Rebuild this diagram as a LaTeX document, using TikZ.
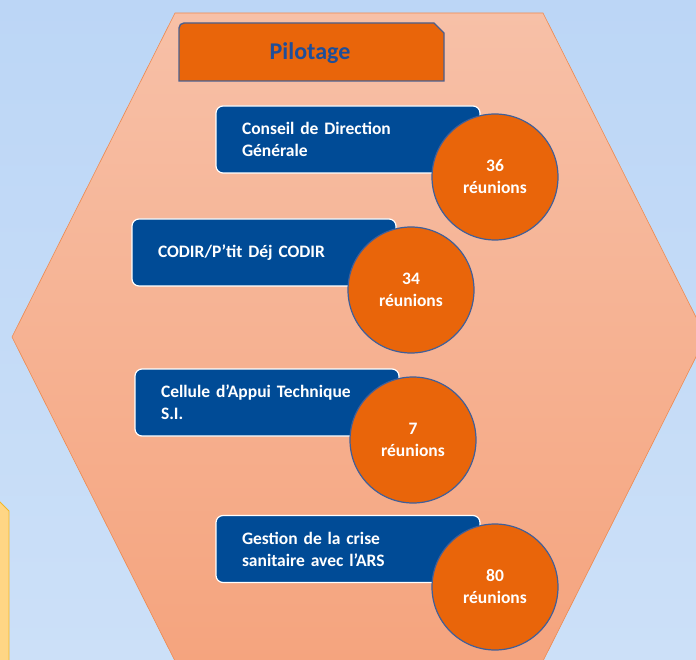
\documentclass[tikz,border=0pt]{standalone}
\usepackage{fontspec}
\setmainfont{Carlito}
\definecolor{bgtop}{HTML}{BCD6F6}
\definecolor{bgbot}{HTML}{CCE0F8}
\definecolor{hextop}{HTML}{F7C0A7}
\definecolor{hexbot}{HTML}{F5A47E}
\definecolor{hexline}{HTML}{EE8A50}
\definecolor{orangefill}{HTML}{E9650A}
\definecolor{boxblue}{HTML}{004B96}
\definecolor{circline}{HTML}{3F5F9A}
\definecolor{pilottext}{HTML}{1F4E99}
\definecolor{pilotline}{HTML}{4A5F8E}
\definecolor{yellowfill}{HTML}{FFD685}
\definecolor{yellowline}{HTML}{F2B829}
\tikzset{
  bluebox/.style={rectangle, fill=boxblue, draw=white, line width=1.2pt,
    rounded corners=7pt, minimum height=67pt, text width=212pt,
    inner xsep=26pt, inner ysep=0pt, align=left, text=white,
    font=\fontsize{17.5}{22}\selectfont\bfseries},
  countcircle/.style={circle, fill=orangefill, draw=circline, line width=1.2pt,
    minimum size=126pt, inner sep=0pt, align=center, text=white,
    font=\fontsize{17.5}{22}\selectfont\bfseries},
}
\begin{document}
\begin{tikzpicture}[x=1pt,y=-1pt]
\useasboundingbox (0,0) rectangle (696,660);
\clip (0,0) rectangle (696,660);
\shade[top color=bgtop, bottom color=bgbot] (0,0) rectangle (696,660);
% yellow shape at left
\fill[yellowfill, draw=yellowline, line width=0.8pt] (-6,496) -- (9,511) -- (9,670) -- (-6,670) -- cycle;
% hexagon
\shade[top color=hextop, bottom color=hexbot, draw=hexline, line width=0.6pt]
  (175,13) -- (543,13) -- (706,337) -- (543,661) -- (175,661) -- (12,337) -- cycle;
% Pilotage header
\draw[fill=orangefill, draw=pilotline, line width=1.4pt]
  (179,81) -- (179,28) .. controls (179,25.2) and (181.2,23) .. (184,23)
  -- (434,23) -- (444,33) -- (444,81) -- cycle;
\node[text=pilottext, font=\fontsize{24}{28}\selectfont\bfseries] (pilot) at (310,53) {Pilotage};
% items
\node[bluebox] (b1) at (348,139.5) {Conseil de Direction\\Générale};
\node[countcircle] (c1) at (495,177) {36\\réunions};
\node[bluebox] (b2) at (264,252.5) {CODIR/P’tit Déj CODIR};
\node[countcircle] (c2) at (411,290) {34\\réunions};
\node[bluebox] (b3) at (267,402.5) {Cellule d’Appui Technique\\S.I.};
\node[countcircle] (c3) at (413,440) {7\\réunions};
\node[bluebox] (b4) at (348,549) {Gestion de la crise\\sanitaire avec l’ARS};
\node[countcircle] (c4) at (495,587) {80\\réunions};
\end{tikzpicture}
\end{document}
